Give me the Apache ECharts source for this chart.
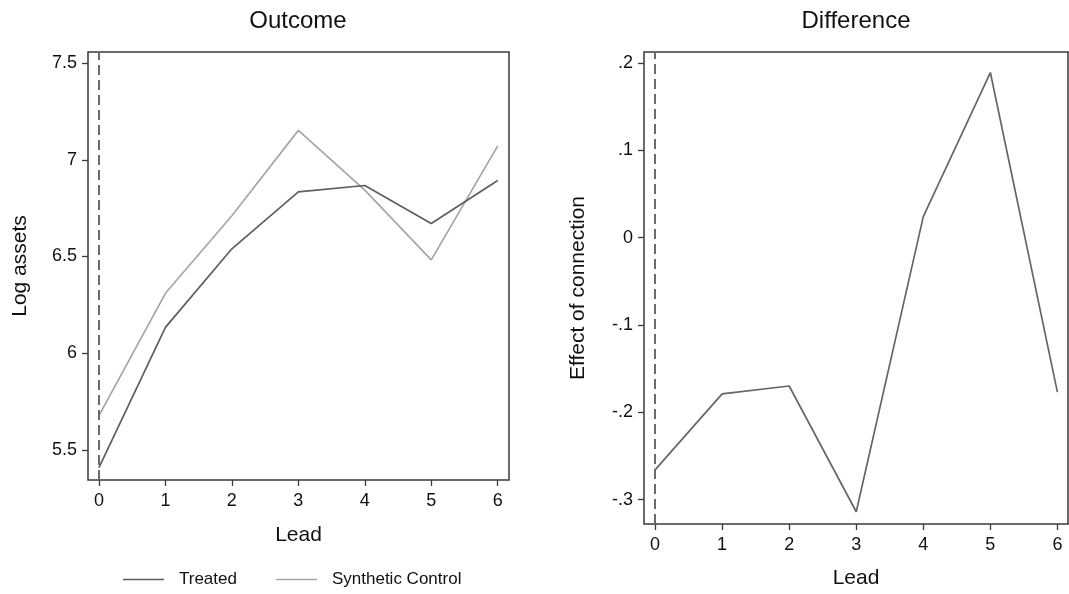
<!DOCTYPE html>
<html>
<head>
<meta charset="utf-8">
<script src="https://cdn.jsdelivr.net/npm/echarts@6/dist/echarts.min.js"></script>
<style>
  html, body { margin: 0; padding: 0; background: #fff; }
  #chart { width: 1069px; height: 594px; }
</style>
</head>
<body>
<div id="chart"></div>
<script>
// leads after connection
const leads = [0, 1, 2, 3, 4, 5, 6];
const treated = [5.409, 6.134, 6.540, 6.834, 6.867, 6.671, 6.893];
const synthetic = [5.678, 6.310, 6.711, 7.152, 6.843, 6.483, 7.072];
const difference = [-0.266, -0.179, -0.170, -0.314, 0.024, 0.189, -0.177];

const outcomeTicks = [5.5, 6, 6.5, 7, 7.5];
const diffTicks = [-0.3, -0.2, -0.1, 0, 0.1, 0.2];

const font = "'Liberation Sans', Arial, sans-serif";
const boxColor = "#3a3a3a";

function pairs(ys) {
  return leads.map((x, i) => [x, ys[i]]);
}

// stata style: .2, -.1, 0
function stataLabel(v) {
  if (Math.abs(v) < 1e-9) return "0";
  const s = String(Math.round(Math.abs(v) * 10) / 10).replace(/^0/, "");
  return (v < 0 ? "-" : "") + s;
}

const dashedZero = {
  silent: true,
  symbol: "none",
  label: { show: false },
  lineStyle: { type: [10, 5], color: "#6a6a6a", width: 2 },
  data: [{ xAxis: 0 }],
};

function xAxisFor(gridIndex, max, gap) {
  return {
    type: "value",
    gridIndex: gridIndex,
    min: -0.165,
    max: max,
    name: "Lead",
    nameLocation: "middle",
    nameGap: gap,
    nameTextStyle: { fontFamily: font, fontSize: 21, color: "#111" },
    axisLine: { show: false, onZero: false },
    splitLine: { show: false },
    axisTick: {
      show: true,
      length: 6,
      customValues: leads,
      lineStyle: { color: boxColor, width: 1.3 },
    },
    axisLabel: {
      customValues: leads,
      margin: 12,
      fontFamily: font,
      fontSize: 18,
      color: "#111",
    },
  };
}

function yAxisFor(gridIndex, min, max, ticks, name, gap, fmt) {
  return {
    type: "value",
    gridIndex: gridIndex,
    min: min,
    max: max,
    name: name,
    nameLocation: "middle",
    nameGap: gap,
    nameTextStyle: { fontFamily: font, fontSize: 21, color: "#111" },
    axisLine: { show: false, onZero: false },
    splitLine: { show: false },
    axisTick: {
      show: true,
      length: 6,
      customValues: ticks,
      lineStyle: { color: boxColor, width: 1.3 },
    },
    axisLabel: {
      customValues: ticks,
      margin: 11,
      fontFamily: font,
      fontSize: 18,
      color: "#111",
      formatter: fmt,
    },
  };
}

const chart = echarts.init(document.getElementById("chart"));
chart.setOption({
  animation: false,
  backgroundColor: "#fff",
  title: [
    {
      text: "Outcome",
      left: 298,
      top: 9,
      padding: 0,
      textAlign: "center",
      textStyle: { fontFamily: font, fontSize: 24, fontWeight: "normal", color: "#111" },
    },
    {
      text: "Difference",
      left: 856,
      top: 9,
      padding: 0,
      textAlign: "center",
      textStyle: { fontFamily: font, fontSize: 24, fontWeight: "normal", color: "#111" },
    },
  ],
  legend: {
    data: ["Treated", "Synthetic Control"],
    left: 123,
    top: 571,
    padding: 0,
    itemWidth: 41,
    itemHeight: 12,
    itemGap: 39,
    icon: "path://M0,0L41,0L41,1.5L0,1.5Z",
    textStyle: { fontFamily: font, fontSize: 17, color: "#111", padding: [0, 0, 0, 10] },
  },
  grid: [
    {
      left: 88, top: 52, width: 421, height: 428,
      show: true, borderColor: boxColor, borderWidth: 1.5,
    },
    {
      left: 644, top: 52, width: 424, height: 475,
      show: true, borderColor: boxColor, borderWidth: 1.5,
    },
  ],
  xAxis: [xAxisFor(0, 6.17, 45), xAxisFor(1, 6.158, 44)],
  yAxis: [
    yAxisFor(0, 5.345, 7.557, outcomeTicks, "Log assets", 57, (v) => String(v)),
    yAxisFor(1, -0.328, 0.2125, diffTicks, "Effect of connection", 55, stataLabel),
  ],
  series: [
    {
      name: "Treated",
      type: "line",
      xAxisIndex: 0,
      yAxisIndex: 0,
      symbol: "none",
      color: "#5e5e5e",
      lineStyle: { color: "#5e5e5e", width: 1.7 },
      data: pairs(treated),
      markLine: dashedZero,
      z: 3,
    },
    {
      name: "Synthetic Control",
      type: "line",
      xAxisIndex: 0,
      yAxisIndex: 0,
      symbol: "none",
      color: "#a6a6a6",
      lineStyle: { color: "#a6a6a6", width: 1.7 },
      data: pairs(synthetic),
      z: 2,
    },
    {
      name: "Difference",
      type: "line",
      xAxisIndex: 1,
      yAxisIndex: 1,
      symbol: "none",
      color: "#666666",
      lineStyle: { color: "#666666", width: 1.7 },
      data: pairs(difference),
      markLine: dashedZero,
    },
  ],
});
</script>
</body>
</html>
